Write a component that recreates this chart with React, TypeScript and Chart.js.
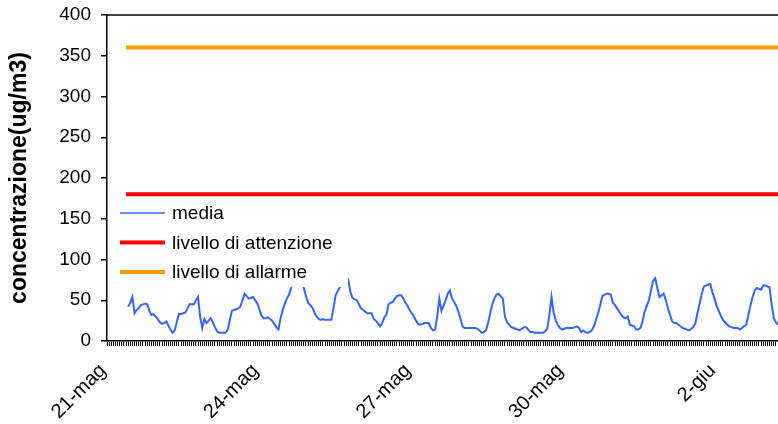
import React, { useEffect, useRef } from "react";
import { Chart, registerables } from "chart.js";

Chart.register(...registerables);

// ---- data ----
const DAYS = [
  "21-mag", "22-mag", "23-mag", "24-mag", "25-mag", "26-mag", "27-mag",
  "28-mag", "29-mag", "30-mag", "31-mag", "1-giu", "2-giu", "3-giu",
];
const HOURS = [
  "00", "01", "02", "03", "04", "05", "06", "07", "08", "09", "10", "11",
  "12", "13", "14", "15", "16", "17", "18", "19", "20", "21", "22", "23",
];
const LABEL_EVERY_HOURS = 72;

// media (ug/m3), hourly from 21-mag 00:00
const MEDIA: (number | null)[] = [
  null, null, null, null, null, null, null, null, null, null, 42, 47, 54, 34, 38, 40, 44, 45, 46, 45, 37, 32, 33, 30,
  27, 23, 21, 22, 24, 19, 14, 10, 13, 24, 33, 33, 34, 35, 40, 45, 45, 45, 50, 54, 30, 16, 27, 22,
  25, 28, 23, 17, 12, 10, 10, 10, 10, 14, 25, 37, 38, 39, 40, 42, 50, 58, 55, 52, 53, 54, 50, 46,
  39, 31, 28, 28, 29, 27, 25, 21, 17, 14, 28, 38, 46, 52, 57, 65, 75, 84, 86, 80, 72, 65, 55, 47,
  44, 41, 35, 30, 27, 26, 27, 26, 26, 26, 26, 40, 56, 61, 66, 78, 82, 80, 75, 60, 53, 51, 50, 45,
  40, 38, 36, 34, 34, 34, 27, 25, 22, 18, 22, 29, 32, 45, 47, 48, 52, 55, 56, 56, 52, 47, 43, 38,
  34, 30, 25, 21, 20, 21, 22, 22, 22, 16, 13, 14, 30, 52, 37, 43, 50, 58, 62, 52, 48, 43, 36, 27,
  18, 16, 16, 16, 16, 16, 16, 15, 13, 10, 11, 13, 22, 33, 45, 52, 57, 58, 55, 52, 30, 23, 20, 17,
  16, 15, 14, 13, 15, 17, 17, 14, 11, 11, 10, 10, 10, 10, 10, 12, 15, 32, 54, 35, 25, 20, 16, 14,
  15, 16, 16, 16, 16, 17, 18, 16, 11, 13, 11, 10, 11, 13, 18, 26, 34, 44, 55, 57, 58, 58, 57, 47,
  44, 40, 36, 32, 29, 28, 30, 20, 19, 18, 14, 14, 16, 24, 36, 43, 50, 62, 74, 77, 65, 54, 56, 58,
  50, 40, 32, 24, 22, 22, 20, 18, 16, 15, 14, 13, 15, 17, 22, 35, 46, 58, 67, 68, 69, 70, 60, 52,
  43, 37, 31, 26, 23, 20, 18, 17, 16, 16, 16, 14, 16, 18, 20, 32, 44, 54, 62, 65, 64, 63, 68, 68,
  67, 66, 45, 28, 23, 20,
];

const LIVELLO_ATTENZIONE = 180;
const LIVELLO_ALLARME = 360;
const THRESHOLD_START_INDEX = 9;

const Y_MIN = 0;
const Y_MAX = 400;
const Y_STEP = 50;

const SERIES_NAMES = ["media", "livello di attenzione", "livello di allarme"];

const LABELS = DAYS.flatMap((d) => HOURS.map((h) => `${d} ${h}:00`)).slice(0, MEDIA.length);

const FONT = '"Liberation Sans", Arial, Helvetica, sans-serif';

const insideLegend = {
  id: "insideLegend",
  afterDatasetsDraw(chart: any) {
    const { ctx, chartArea } = chart;
    const x0 = chartArea.left + 2;
    const y0 = chartArea.top + 183;
    ctx.save();
    ctx.fillStyle = "#ffffff";
    ctx.fillRect(x0, y0, 239, 89);
    chart.data.datasets.forEach((ds: any, i: number) => {
      const y = y0 + 15 + i * 29.5;
      ctx.strokeStyle = ds.borderColor;
      ctx.lineWidth = i === 0 ? 1.5 : ds.borderWidth;
      ctx.beginPath();
      ctx.moveTo(x0 + 11, y);
      ctx.lineTo(x0 + 56, y);
      ctx.stroke();
      ctx.fillStyle = "#000000";
      ctx.font = `19px ${FONT}`;
      ctx.textBaseline = "middle";
      ctx.textAlign = "left";
      ctx.fillText(ds.label, x0 + 63, y + 1);
    });
    ctx.restore();
  },
};

const topBorder = {
  id: "topBorder",
  afterDraw(chart: any) {
    const { ctx, chartArea } = chart;
    ctx.save();
    ctx.strokeStyle = "#000";
    ctx.lineWidth = 1.5;
    ctx.beginPath();
    ctx.moveTo(chartArea.left, chartArea.top);
    ctx.lineTo(chartArea.right, chartArea.top);
    ctx.stroke();
    ctx.restore();
  },
};

export default function App() {
  const ref = useRef<HTMLCanvasElement | null>(null);

  useEffect(() => {
    if (!ref.current) return;
    const lastLabel = LABELS[LABELS.length - 1];
    const startLabel = LABELS[THRESHOLD_START_INDEX];
    const chart = new Chart(ref.current, {
      type: "line",
      data: {
        labels: LABELS,
        datasets: [
          {
            label: SERIES_NAMES[0],
            data: MEDIA,
            borderColor: "#3366FF",
            borderWidth: 2,
            pointRadius: 0,
            tension: 0,
            spanGaps: false,
          },
          {
            label: SERIES_NAMES[1],
            data: [
              { x: startLabel, y: LIVELLO_ATTENZIONE },
              { x: lastLabel, y: LIVELLO_ATTENZIONE },
            ] as any,
            borderColor: "#FF0000",
            borderWidth: 4,
            pointRadius: 0,
          },
          {
            label: SERIES_NAMES[2],
            data: [
              { x: startLabel, y: LIVELLO_ALLARME },
              { x: lastLabel, y: LIVELLO_ALLARME },
            ] as any,
            borderColor: "#FF9900",
            borderWidth: 4,
            pointRadius: 0,
          },
        ],
      },
      options: {
        animation: false,
        responsive: false,
        devicePixelRatio: 1,
        layout: { padding: { top: 15, left: 0, right: 0, bottom: 0 } },
        plugins: {
          legend: { display: false },
          tooltip: { enabled: false },
        },
        scales: {
          x: {
            type: "category",
            offset: false,
            grid: {
              drawOnChartArea: false,
              drawTicks: true,
              tickLength: 5,
              color: "#000",
              lineWidth: 1,
            },
            border: { color: "#000", width: 1.5 },
            ticks: {
              autoSkip: false,
              maxRotation: 45,
              minRotation: 45,
              padding: 13,
              labelOffset: -4,
              color: "#000",
              font: { family: FONT, size: 20 },
              callback: (_v: any, index: number) =>
                index % LABEL_EVERY_HOURS === 0 ? DAYS[index / 24] : "",
            },
            afterFit: (scale: any) => {
              scale.height = 83;
              scale.paddingLeft = 0;
              scale.paddingRight = 0;
            },
          },
          y: {
            min: Y_MIN,
            max: Y_MAX,
            ticks: {
              stepSize: Y_STEP,
              padding: 10,
              color: "#000",
              font: { family: FONT, size: 19 },
            },
            grid: {
              drawOnChartArea: false,
              tickLength: 6,
              color: "#000",
              lineWidth: 1.5,
            },
            border: { color: "#000", width: 1.5 },
            title: {
              display: true,
              text: "concentrazione(ug/m3)",
              color: "#000",
              font: { family: FONT, size: 23, weight: "bold" },
              padding: { top: 6, bottom: 0 },
            },
            afterFit: (scale: any) => {
              scale.width = 107;
              scale.paddingTop = 0;
              scale.paddingBottom = 0;
            },
          },
        },
      },
      plugins: [insideLegend, topBorder],
    });
    return () => chart.destroy();
  }, []);

  return (
    <div style={{ position: "absolute", left: 0, top: 0, width: 778, height: 424, background: "#fff" }}>
      <canvas ref={ref} width={778} height={424} style={{ display: "block" }} />
    </div>
  );
}
